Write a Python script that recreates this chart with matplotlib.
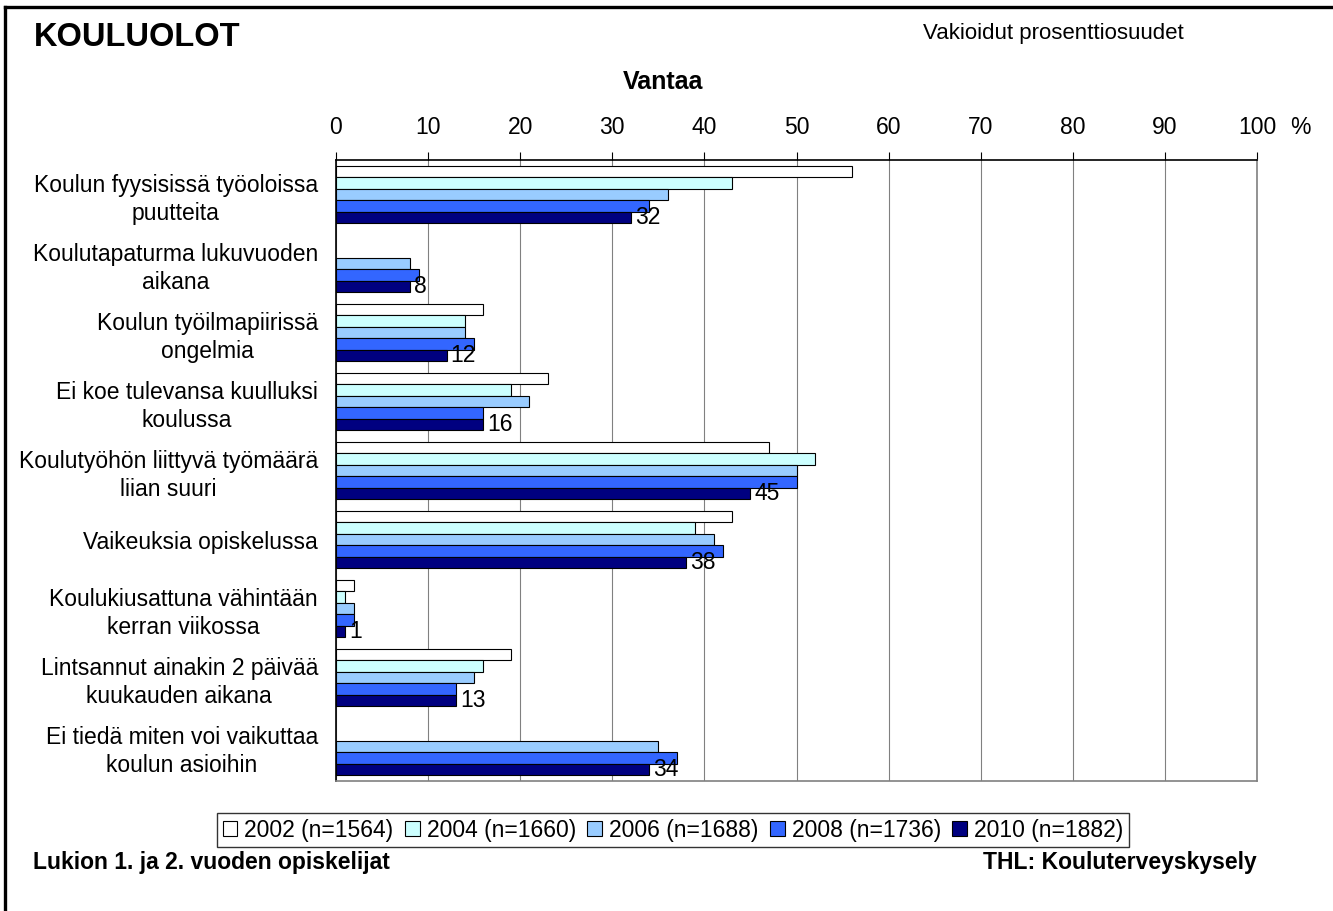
import numpy as np
import matplotlib
matplotlib.use('Agg')
import matplotlib.pyplot as plt
from matplotlib.lines import Line2D

plt.rcParams['font.family'] = ['Liberation Sans', 'DejaVu Sans']

categories = [
    "Koulun fyysisissä työoloissa\npuutteita",
    "Koulutapaturma lukuvuoden\naikana",
    "Koulun työilmapiirissä\nongelmia",
    "Ei koe tulevansa kuulluksi\nkoulussa",
    "Koulutyöhön liittyvä työmäärä\nliian suuri",
    "Vaikeuksia opiskelussa",
    "Koulukiusattuna vähintään\nkerran viikossa",
    "Lintsannut ainakin 2 päivää\nkuukauden aikana",
    "Ei tiedä miten voi vaikuttaa\nkoulun asioihin",
]
series_names = ["2002 (n=1564)", "2004 (n=1660)", "2006 (n=1688)",
                "2008 (n=1736)", "2010 (n=1882)"]
v2002 = [56, np.nan, 16, 23, 47, 43, 2, 19, np.nan]
v2004 = [43, np.nan, 14, 19, 52, 39, 1, 16, np.nan]
v2006 = [36, 8, 14, 21, 50, 41, 2, 15, 35]
v2008 = [34, 9, 15, 16, 50, 42, 2, 13, 37]
v2010 = [32, 8, 12, 16, 45, 38, 1, 13, 34]
colors = ['#FFFFFF', '#CCFFFF', '#99CCFF', '#3366FF', '#000080']

FS = 16.5
W, H = 1333, 911
fig = plt.figure(figsize=(W / 100, H / 100), dpi=100)
fig.patch.set_facecolor('white')

# outer frame (top and left edges visible)
fig.add_artist(Line2D([5 / W, 1.0], [1 - 7 / H, 1 - 7 / H], color='black', lw=2.4))
fig.add_artist(Line2D([5 / W, 5 / W], [0.0, 1 - 7 / H], color='black', lw=2.4))

ax = fig.add_axes([336 / W, 1 - 781 / H, (1257 - 336) / W, (781 - 160) / H])

y = np.arange(len(categories))
h = 0.168
all_vals = [v2002, v2004, v2006, v2008, v2010]
containers = []
for i, (vals, col, name) in enumerate(zip(all_vals, colors, series_names)):
    c = ax.barh(y + (i - 2) * h, vals, height=h, color=col, edgecolor='black',
                linewidth=0.8, label=name, zorder=3)
    containers.append(c)

labels = ax.bar_label(containers[-1], labels=[f"{v:g}" for v in v2010],
                      padding=3, fontsize=FS, zorder=4)
for t in labels:
    t.set_va('center')
    x0, y0 = t.get_position()
    t.set_position((x0, y0 - 0.02))

ax.set_xlim(0, 100)
ax.set_ylim(len(categories) - 0.5, -0.5)
ax.set_xticks(np.arange(0, 101, 10))
ax.xaxis.tick_top()
ax.tick_params(axis='x', direction='out', length=6, width=0.8, pad=9,
               labelsize=FS, color='black')
ax.set_yticks(y)
ax.set_yticklabels(categories, fontsize=FS)
for lab in ax.get_yticklabels():
    lab.set_multialignment('center')
    lab.set_linespacing(1.3)
ax.tick_params(axis='y', length=0, pad=13)

ax.grid(axis='x', color='#808080', lw=0.8, zorder=0)
for s in ['top', 'left']:
    ax.spines[s].set_color('black')
    ax.spines[s].set_linewidth(1.2)
for s in ['right', 'bottom']:
    ax.spines[s].set_color('#808080')
    ax.spines[s].set_linewidth(1.2)

# texts
fig.text(34 / W, 1 - 38 / H, "KOULUOLOT", fontsize=23.5, fontweight='bold',
         ha='left', va='center')
fig.text(1053 / W, 1 - 33 / H, "Vakioidut prosenttiosuudet", fontsize=16,
         ha='center', va='center')
fig.text(663 / W, 1 - 82 / H, "Vantaa", fontsize=18, fontweight='bold',
         ha='center', va='center')
fig.text(1300 / W, 1 - 128 / H, "%", fontsize=FS, ha='center', va='center')
fig.text(33 / W, 1 - 862 / H, "Lukion 1. ja 2. vuoden opiskelijat", fontsize=16.5,
         fontweight='bold', ha='left', va='center')
fig.text(1257 / W, 1 - 862 / H, "THL: Kouluterveyskysely", fontsize=16.5,
         fontweight='bold', ha='right', va='center')

leg = fig.legend(loc='center', bbox_to_anchor=(673 / W, 1 - 830 / H), ncol=5,
                 fontsize=FS, frameon=True, fancybox=False, edgecolor='black',
                 handlelength=0.65, handleheight=0.65, handletextpad=0.3,
                 columnspacing=0.5, borderpad=0.25, borderaxespad=0)
leg.get_frame().set_linewidth(1.0)

fig.savefig("out.png", dpi=100, facecolor='white')
